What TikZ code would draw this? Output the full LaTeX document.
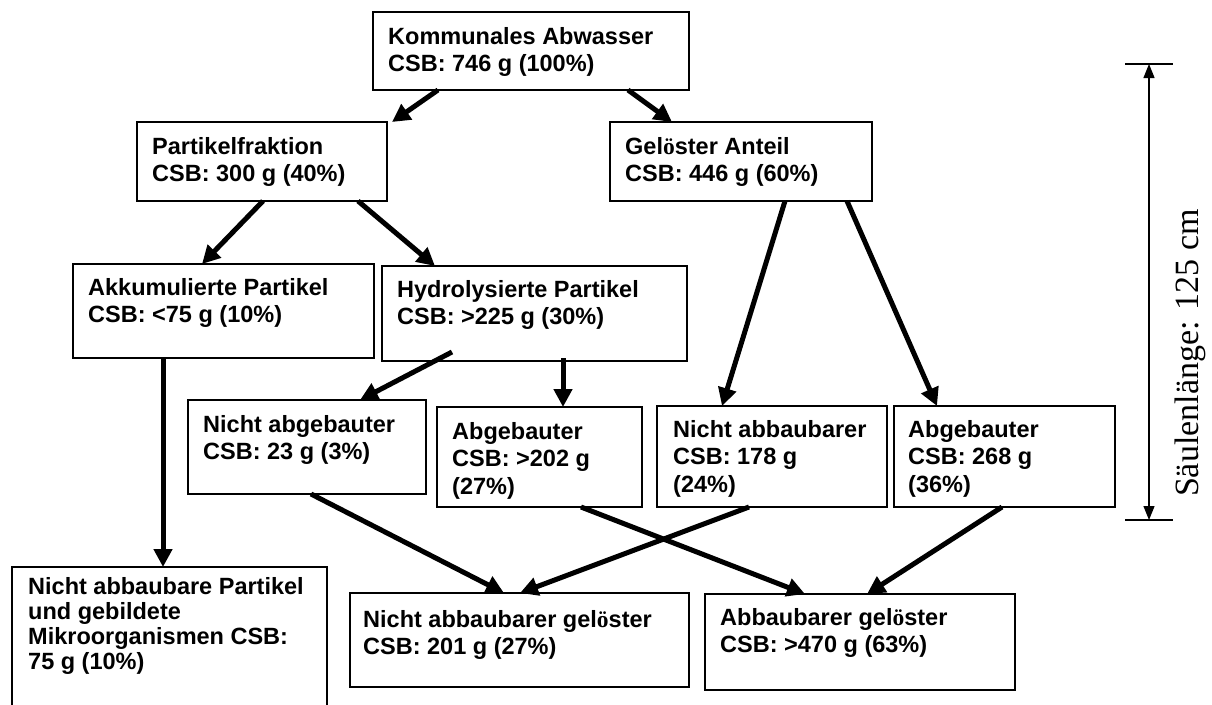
\documentclass[tikz,border=0pt]{standalone}
\usepackage{fontspec}
\setsansfont{Liberation Sans}
\newfontfamily\serifo{Liberation Serif}
\usetikzlibrary{arrows.meta}
\newcommand\oumlserif{{\serifo ö}}
\begin{document}
\begin{tikzpicture}[x=1pt,y=-1pt,
  box/.style={draw, line width=1.8pt, inner sep=0pt, outer sep=0pt, anchor=north west},
  txt/.style={anchor=north west, inner sep=0pt, align=left,
    font=\sffamily\bfseries\fontsize{23.5}{27.5}\selectfont},
  flow/.style={line width=5pt, -{Triangle[length=18pt,width=18pt]}},
  dimtip/.style={line width=1.3pt, {Triangle[length=14pt,width=11pt]}-{Triangle[length=14pt,width=11pt]}},
  tick/.style={line width=1.3pt},
]
\useasboundingbox (0,0) rectangle (1212,704);

% boxes
\node[box, minimum width=316pt, minimum height=78pt] (A) at (373,12) {};
\node[box, minimum width=250pt, minimum height=79pt] (B) at (137,122) {};
\node[box, minimum width=262pt, minimum height=79pt] (C) at (610,122) {};
\node[box, minimum width=301pt, minimum height=94pt] (D) at (73,264) {};
\node[box, minimum width=305pt, minimum height=95pt] (E) at (382,266) {};
\node[box, minimum width=238pt, minimum height=94pt] (F) at (188,400) {};
\node[box, minimum width=205pt, minimum height=100pt] (G) at (437,407) {};
\node[box, minimum width=230pt, minimum height=101pt] (H) at (657,406) {};
\node[box, minimum width=221pt, minimum height=101pt] (I) at (894,406) {};
\node[box, minimum width=315pt, minimum height=150pt] (J) at (12,567) {};
\node[box, minimum width=339pt, minimum height=94pt] (K) at (350,593) {};
\node[box, minimum width=310pt, minimum height=96pt] (L) at (705,594) {};

% box texts
\node[txt] (At) at ([xshift=15pt,yshift=-15pt]A.north west) {Kommunales Abwasser\\CSB: 746 g (100\%)};
\node[txt] (Bt) at ([xshift=15pt,yshift=-15pt]B.north west) {Partikelfraktion\\CSB: 300 g (40\%)};
\node[txt] (Ct) at ([xshift=15pt,yshift=-15pt]C.north west) {Gel\oumlserif ster Anteil\\CSB: 446 g (60\%)};
\node[txt] (Dt) at ([xshift=15pt,yshift=-14pt]D.north west) {Akkumulierte Partikel\\CSB: <75 g (10\%)};
\node[txt] (Et) at ([xshift=15pt,yshift=-14pt]E.north west) {Hydrolysierte Partikel\\CSB: >225 g (30\%)};
\node[txt] (Ft) at ([xshift=15pt,yshift=-15pt]F.north west) {Nicht abgebauter\\CSB: 23 g (3\%)};
\node[txt] (Gt) at ([xshift=15pt,yshift=-15pt]G.north west) {Abgebauter\\CSB: >202 g\\(27\%)};
\node[txt] (Ht) at ([xshift=16pt,yshift=-14pt]H.north west) {Nicht abbaubarer\\CSB: 178 g\\(24\%)};
\node[txt] (It) at ([xshift=14pt,yshift=-14pt]I.north west) {Abgebauter\\CSB: 268 g\\(36\%)};
\node[txt, font=\sffamily\bfseries\fontsize{23.5}{25}\selectfont] (Jt) at ([xshift=16pt,yshift=-10pt]J.north west) {Nicht abbaubare Partikel\\und gebildete\\Mikroorganismen CSB:\\75 g (10\%)};
\node[txt] (Kt) at ([xshift=13pt,yshift=-17pt]K.north west) {Nicht abbaubarer gel\oumlserif ster\\CSB: 201 g (27\%)};
\node[txt] (Lt) at ([xshift=15pt,yshift=-14pt]L.north west) {Abbaubarer gel\oumlserif ster\\CSB: >470 g (63\%)};

% flows
\draw[flow] ([xshift=65pt]A.south west)  -- ([xshift=255pt]B.north west);
\draw[flow] ([xshift=255pt]A.south west) -- ([xshift=62pt]C.north west);
\draw[flow] ([xshift=126pt]B.south west) -- ([xshift=129pt]D.north west);
\draw[flow] ([xshift=221pt]B.south west) -- ([xshift=53pt]E.north west);
\draw[flow] ([xshift=175pt]C.south west) -- ([xshift=65pt]H.north west);
\draw[flow] ([xshift=237pt]C.south west) -- ([xshift=43pt]I.north west);
\draw[flow] ([xshift=90pt]D.south west)  -- ([xshift=151pt]J.north west);
\draw[flow] ([xshift=70pt,yshift=9pt]E.south west)  -- ([xshift=172pt]F.north west);
\draw[flow] ([xshift=181pt,yshift=3pt]E.south west) -- ([xshift=126pt]G.north west);
\draw[flow] ([xshift=123pt]F.south west) -- ([xshift=154pt]K.north west);
\draw[flow] ([xshift=144pt]G.south west) -- ([xshift=100pt]L.north west);
\draw[flow] ([xshift=92pt]H.south west)  -- ([xshift=170pt]K.north west);
\draw[flow] ([xshift=108pt]I.south west) -- ([xshift=162pt]L.north west);

% column length dimension
\coordinate (dt) at (1149,64);
\coordinate (db) at (1149,520);
\coordinate (dtl) at (1125,64);
\coordinate (dtr) at (1173,64);
\coordinate (dbl) at (1125,520);
\coordinate (dbr) at (1173,520);
\draw[tick] (dtl) -- (dtr);
\draw[tick] (dbl) -- (dbr);
\draw[dimtip] (dt) -- (db);
\node[rotate=90, inner sep=0pt, font=\serifo\fontsize{34}{40}\selectfont] (lab) at (1190,353) {Säulenlänge: 125 cm};
\end{tikzpicture}
\end{document}
